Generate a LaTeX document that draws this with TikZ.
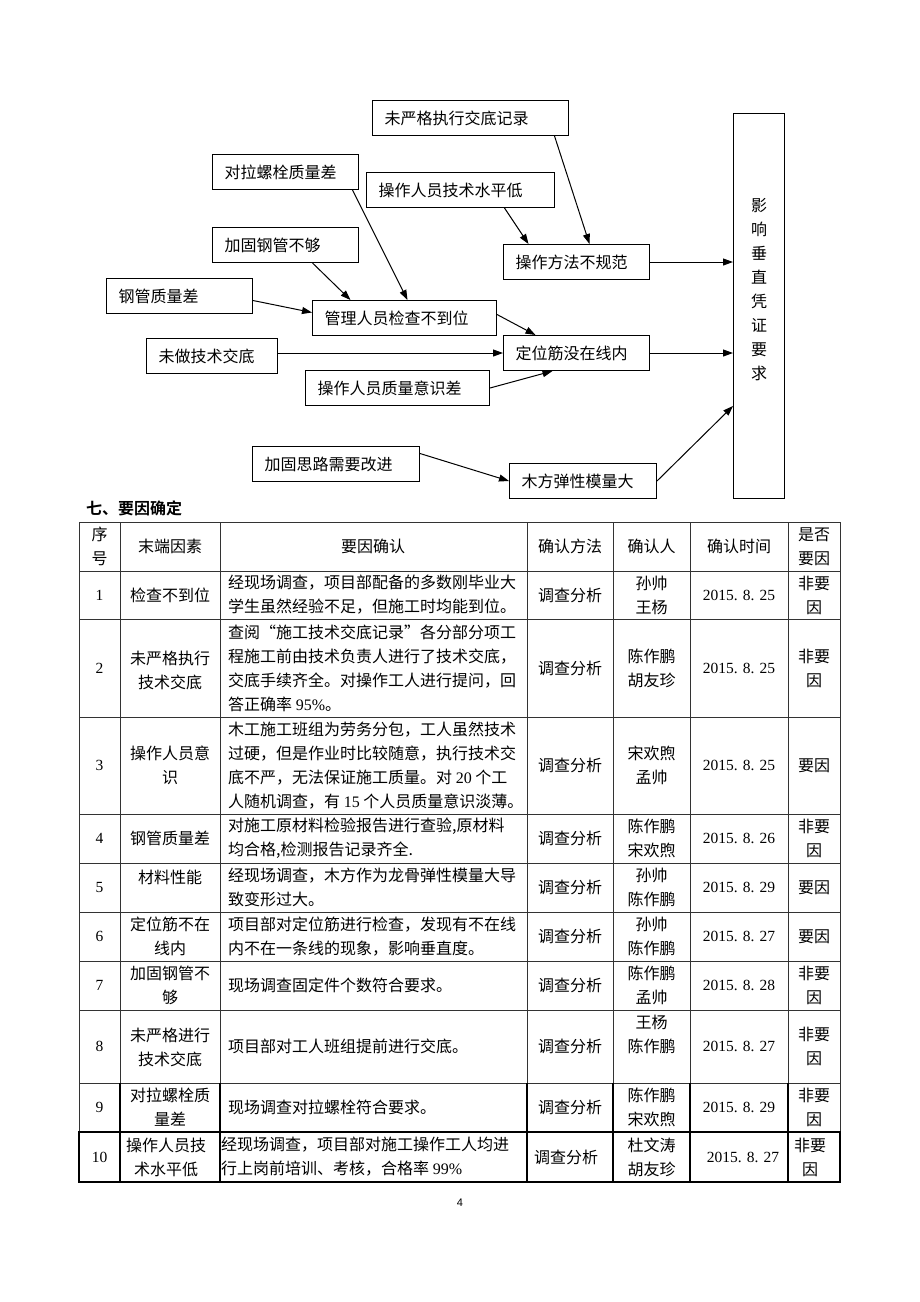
\documentclass[tikz,border=0pt]{standalone}
\usepackage{fontspec}
\newfontfamily\cjk{Noto Sans CJK SC}[BoldFont={Noto Sans CJK SC Bold}]
\newfontfamily\lat{Liberation Serif}
\newfontfamily\lats{Liberation Sans}
\usetikzlibrary{arrows.meta}
\tikzset{
>={Triangle[length=10pt,width=7pt]},
cause/.style={draw, line width=1pt, minimum height=35, inner xsep=12, inner ysep=0, align=left, anchor=north west, font=\cjk\fontsize{16}{24}\selectfont},
arr/.style={->, line width=1pt},
cell/.style={inner sep=0, align=center, font=\cjk\fontsize{16}{24}\selectfont},
num/.style={cell, font=\lat\fontsize{15.5}{24}\selectfont},
desc/.style={cell, align=left, anchor=west},
grid/.style={line width=1pt, black!80},
}

\begin{document}
\begin{tikzpicture}[x=1pt, y=-1pt]
\useasboundingbox (0,0) rectangle (920,1302);

% cause diagram
\node[cause, text width=172] (jdjl) at (372,100) {未严格执行交底记录};
\node[cause, text width=122] (dlls) at (212,154) {对拉螺栓质量差};
\node[cause, text width=164] (jssp) at (366,172) {操作人员技术水平低};
\node[cause, text width=122] (jggb) at (212,227) {加固钢管不够};
\node[cause, text width=122] (czff) at (503,244) {操作方法不规范};
\node[cause, text width=122] (gggl) at (106,278) {钢管质量差};
\node[cause, text width=160] (glry) at (312,300) {管理人员检查不到位};
\node[cause, text width=107] (wdjs) at (146,338) {未做技术交底};
\node[cause, text width=122] (dwj) at (503,335) {定位筋没在线内};
\node[cause, text width=160] (zlys) at (305,370) {操作人员质量意识差};
\node[cause, text width=143] (jgsl) at (252,446) {加固思路需要改进};
\node[cause, text width=123] (mfmx) at (509,463) {木方弹性模量大};
\node[draw, line width=1pt, anchor=north west, minimum width=51, minimum height=385] (yxcz) at (733,113) {};
\node[cell] (yxczt) at ([yshift=16]yxcz.center) {影\\响\\垂\\直\\凭\\证\\要\\求};

\draw[arr] ([xshift=84]jdjl.south) -- ([xshift=13]czff.north);
\draw[arr] ([xshift=44]jssp.south) -- ([xshift=-48]czff.north);
\draw[arr] (czff.east) -- (yxcz.west |- czff.east);
\draw[arr] ([xshift=67]dlls.south) -- ([xshift=3]glry.north);
\draw[arr] ([xshift=27]jggb.south) -- ([xshift=-54]glry.north);
\draw[arr] ([yshift=-4.5]gggl.east) -- ([yshift=5.5]glry.west);
\draw[arr] ([yshift=3.5]glry.east) -- ([xshift=-41]dwj.north);
\draw[arr] (wdjs.east |- dwj.west) -- (dwj.west);
\draw[arr] (zlys.east) -- ([xshift=-24]dwj.south);
\draw[arr] (dwj.east) -- (yxcz.west |- dwj.east);
\draw[arr] ([yshift=10.5]jgsl.east) -- (mfmx.west);
\draw[arr] (mfmx.east) -- ([yshift=-100]yxcz.west);

% table
\node[cell, anchor=west, font=\cjk\bfseries\fontsize{16}{24}\selectfont] (ttl) at (86,508) {七、要因确定};
\foreach \y in {522,571,619,717,814,863,912,961,1010,1083,1132,1182}
  \draw[grid] (79,\y) -- (840,\y);
\foreach \x in {79,120,220,527,613,690,788,840}
  \draw[grid] (\x,522) -- (\x,1182);
\foreach \x in {120,220,527,613,690,788}
  \draw[line width=1.6pt] (\x,1083) -- (\x,1182);
\draw[line width=1.6pt] (79,1132) rectangle (840,1182);

\node[cell] (h1) at (99.5,546.5) {序\\号};
\node[cell] (h2) at (170,546.5) {末端因素};
\node[cell] (h3) at (373,546.5) {要因确认};
\node[cell] (h4) at (570,546.5) {确认方法};
\node[cell] (h5) at (651.5,546.5) {确认人};
\node[cell] (h6) at (739,546.5) {确认时间};
\node[cell] (h7) at (814,546.5) {是否\\要因};

\node[num] (n1) at (99.5,595) {1};
\node[cell] (f1) at (170,595) {检查不到位};
\node[desc] (d1) at (228,595) {经现场调查，项目部配备的多数刚毕业大\\学生虽然经验不足，但施工时均能到位。};
\node[cell] (m1) at (570,595) {调查分析};
\node[cell] (p1) at (651.5,595) {孙帅\\王杨};
\node[num] (t1) at (739,595) {2015. 8. 25};
\node[cell] (y1) at (814,595) {非要\\因};

\node[num] (n2) at (99.5,668) {2};
\node[cell] (f2) at (170,670) {未严格执行\\技术交底};
\node[desc] (d2) at (228,668) {查阅“施工技术交底记录”各分部分项工\\程施工前由技术负责人进行了技术交底，\\交底手续齐全。对操作工人进行提问，回\\答正确率 {\lat 95\%}。};
\node[cell] (m2) at (570,668) {调查分析};
\node[cell] (p2) at (651.5,668) {陈作鹏\\胡友珍};
\node[num] (t2) at (739,668) {2015. 8. 25};
\node[cell] (y2) at (814,668) {非要\\因};

\node[num] (n3) at (99.5,765.5) {3};
\node[cell] (f3) at (170,765.5) {操作人员意\\识};
\node[desc] (d3) at (228,765.5) {木工施工班组为劳务分包，工人虽然技术\\过硬，但是作业时比较随意，执行技术交\\底不严，无法保证施工质量。对 {\lat 20} 个工\\人随机调查，有 {\lat 15} 个人员质量意识淡薄。};
\node[cell] (m3) at (570,765.5) {调查分析};
\node[cell] (p3) at (651.5,765.5) {宋欢煦\\孟帅};
\node[num] (t3) at (739,765.5) {2015. 8. 25};
\node[cell] (y3) at (814,765.5) {要因};

\node[num] (n4) at (99.5,838.5) {4};
\node[cell] (f4) at (170,838.5) {钢管质量差};
\node[desc] (d4) at (228,838.5) {对施工原材料检验报告进行查验,原材料\\均合格,检测报告记录齐全.};
\node[cell] (m4) at (570,838.5) {调查分析};
\node[cell] (p4) at (651.5,838.5) {陈作鹏\\宋欢煦};
\node[num] (t4) at (739,838.5) {2015. 8. 26};
\node[cell] (y4) at (814,838.5) {非要\\因};

\node[num] (n5) at (99.5,887.5) {5};
\node[cell] (f5) at (170,877) {材料性能};
\node[desc] (d5) at (228,887.5) {经现场调查，木方作为龙骨弹性模量大导\\致变形过大。};
\node[cell] (m5) at (570,887.5) {调查分析};
\node[cell] (p5) at (651.5,887.5) {孙帅\\陈作鹏};
\node[num] (t5) at (739,887.5) {2015. 8. 29};
\node[cell] (y5) at (814,887.5) {要因};

\node[num] (n6) at (99.5,936.5) {6};
\node[cell] (f6) at (170,936.5) {定位筋不在\\线内};
\node[desc] (d6) at (228,936.5) {项目部对定位筋进行检查，发现有不在线\\内不在一条线的现象，影响垂直度。};
\node[cell] (m6) at (570,936.5) {调查分析};
\node[cell] (p6) at (651.5,936.5) {孙帅\\陈作鹏};
\node[num] (t6) at (739,936.5) {2015. 8. 27};
\node[cell] (y6) at (814,936.5) {要因};

\node[num] (n7) at (99.5,985.5) {7};
\node[cell] (f7) at (170,985.5) {加固钢管不\\够};
\node[desc] (d7) at (228,985.5) {现场调查固定件个数符合要求。};
\node[cell] (m7) at (570,985.5) {调查分析};
\node[cell] (p7) at (651.5,985.5) {陈作鹏\\孟帅};
\node[num] (t7) at (739,985.5) {2015. 8. 28};
\node[cell] (y7) at (814,985.5) {非要\\因};

\node[num] (n8) at (99.5,1046.5) {8};
\node[cell] (f8) at (170,1047.5) {未严格进行\\技术交底};
\node[desc] (d8) at (228,1046.5) {项目部对工人班组提前进行交底。};
\node[cell] (m8) at (570,1046.5) {调查分析};
\node[cell] (p8) at (651.5,1034.5) {王杨\\陈作鹏};
\node[num] (t8) at (739,1046.5) {2015. 8. 27};
\node[cell] (y8) at (814,1046.5) {非要\\因};

\node[num] (n9) at (99.5,1107.5) {9};
\node[cell] (f9) at (170,1107.5) {对拉螺栓质\\量差};
\node[desc] (d9) at (228,1107.5) {现场调查对拉螺栓符合要求。};
\node[cell] (m9) at (570,1107.5) {调查分析};
\node[cell] (p9) at (651.5,1107.5) {陈作鹏\\宋欢煦};
\node[num] (t9) at (739,1107.5) {2015. 8. 29};
\node[cell] (y9) at (814,1107.5) {非要\\因};

\node[num] (n10) at (99.5,1157) {10};
\node[cell] (f10) at (166,1157) {操作人员技\\术水平低};
\node[desc] (d10) at (221,1157) {经现场调查，项目部对施工操作工人均进\\行上岗前培训、考核，合格率 {\lat 99\%}};
\node[cell] (m10) at (566,1157) {调查分析};
\node[cell] (p10) at (651.5,1157) {杜文涛\\胡友珍};
\node[num] (t10) at (743,1157) {2015. 8. 27};
\node[cell] (y10) at (810,1157) {非要\\因};

\node[cell, font=\lats\fontsize{11}{13}\selectfont] (pg) at (460,1203) {4};
\end{tikzpicture}
\end{document}
